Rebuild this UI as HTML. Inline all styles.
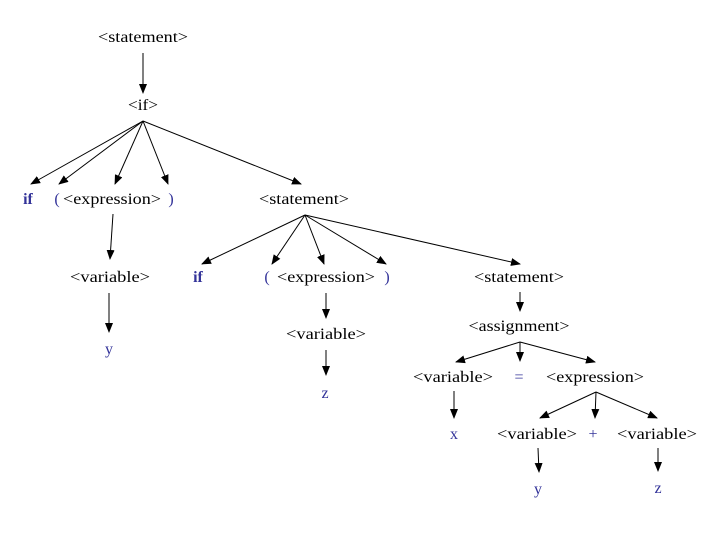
<!DOCTYPE html>
<html><head><meta charset="utf-8"><style>
html,body{margin:0;padding:0;background:#fff;}
svg{display:block;}
text{font-family:"Liberation Serif",serif;font-size:16px;fill:#000;}
.b{fill:#333399;}
.bb{fill:#333399;font-weight:bold;}
line{stroke:#000;stroke-width:1;}
</style></head><body>
<svg width="720" height="540" viewBox="0 0 720 540" xmlns="http://www.w3.org/2000/svg">
<defs><marker id="a" markerWidth="10" markerHeight="8" refX="9" refY="4" orient="auto" markerUnits="userSpaceOnUse"><path d="M0,0 L10,4 L0,8 z" fill="#000"/></marker></defs>
<g text-anchor="middle">
<text x="143" y="42" textLength="90" lengthAdjust="spacingAndGlyphs">&lt;statement&gt;</text>
<text x="143" y="110" textLength="30" lengthAdjust="spacingAndGlyphs">&lt;if&gt;</text>
<text x="28" y="204" class="bb">if</text>
<text x="57" y="204" class="b">(</text>
<text x="112" y="204" textLength="98" lengthAdjust="spacingAndGlyphs">&lt;expression&gt;</text>
<text x="171" y="204" class="b">)</text>
<text x="304" y="204" textLength="90" lengthAdjust="spacingAndGlyphs">&lt;statement&gt;</text>
<text x="110" y="282" textLength="80" lengthAdjust="spacingAndGlyphs">&lt;variable&gt;</text>
<text x="109" y="354" class="b">y</text>
<text x="198" y="282" class="bb">if</text>
<text x="267" y="282" class="b">(</text>
<text x="326" y="282" textLength="98" lengthAdjust="spacingAndGlyphs">&lt;expression&gt;</text>
<text x="387" y="282" class="b">)</text>
<text x="519" y="282" textLength="90" lengthAdjust="spacingAndGlyphs">&lt;statement&gt;</text>
<text x="326" y="339" textLength="80" lengthAdjust="spacingAndGlyphs">&lt;variable&gt;</text>
<text x="325" y="398" class="b">z</text>
<text x="519" y="331" textLength="101" lengthAdjust="spacingAndGlyphs">&lt;assignment&gt;</text>
<text x="453" y="382" textLength="80" lengthAdjust="spacingAndGlyphs">&lt;variable&gt;</text>
<text x="519" y="382" class="b">=</text>
<text x="595" y="382" textLength="98" lengthAdjust="spacingAndGlyphs">&lt;expression&gt;</text>
<text x="454" y="439" class="b">x</text>
<text x="537" y="439" textLength="80" lengthAdjust="spacingAndGlyphs">&lt;variable&gt;</text>
<text x="593" y="439" class="b">+</text>
<text x="657" y="439" textLength="80" lengthAdjust="spacingAndGlyphs">&lt;variable&gt;</text>
<text x="538" y="494" class="b">y</text>
<text x="658" y="493" class="b">z</text>
</g>
<g marker-end="url(#a)">
<line x1="143" y1="53" x2="143" y2="93"/>
<line x1="143" y1="121" x2="31" y2="184"/>
<line x1="143" y1="121" x2="59" y2="184"/>
<line x1="143" y1="121" x2="115" y2="184"/>
<line x1="143" y1="121" x2="168" y2="184"/>
<line x1="143" y1="121" x2="301" y2="184"/>
<line x1="113" y1="214" x2="110" y2="259"/>
<line x1="109" y1="293" x2="109" y2="332"/>
<line x1="305" y1="215" x2="202" y2="264"/>
<line x1="305" y1="215" x2="272" y2="264"/>
<line x1="305" y1="215" x2="324" y2="264"/>
<line x1="305" y1="215" x2="386" y2="264"/>
<line x1="305" y1="215" x2="520" y2="264"/>
<line x1="326" y1="293" x2="326" y2="318"/>
<line x1="326" y1="350" x2="326" y2="375"/>
<line x1="520" y1="292" x2="520" y2="311"/>
<line x1="520" y1="342" x2="456" y2="362"/>
<line x1="520" y1="342" x2="520" y2="361"/>
<line x1="520" y1="342" x2="595" y2="362"/>
<line x1="454" y1="391" x2="454" y2="418"/>
<line x1="596" y1="392" x2="540" y2="418"/>
<line x1="596" y1="392" x2="595" y2="418"/>
<line x1="596" y1="392" x2="657" y2="418"/>
<line x1="538" y1="448" x2="539" y2="472"/>
<line x1="658" y1="448" x2="658" y2="471"/>
</g>
</svg>
</body></html>
